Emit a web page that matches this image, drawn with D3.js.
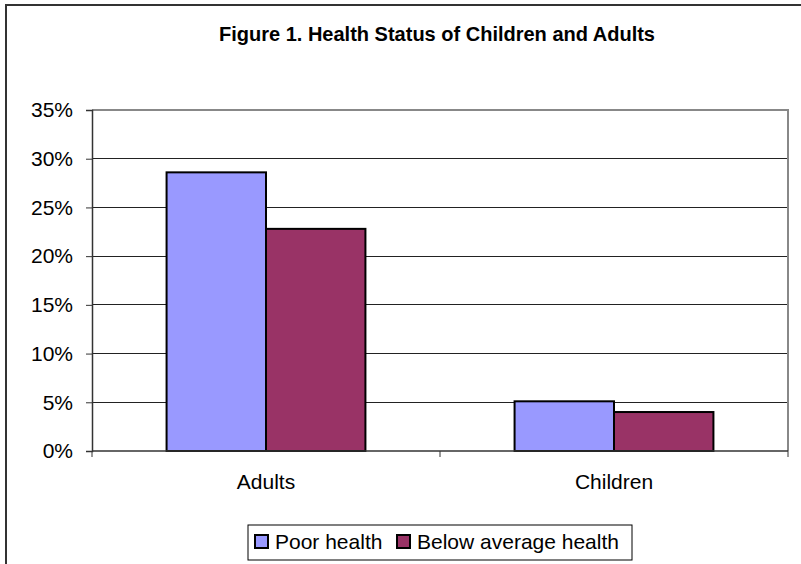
<!DOCTYPE html>
<html>
<head>
<meta charset="utf-8">
<script src="https://cdn.jsdelivr.net/npm/d3@7"></script>
<style>
  html, body { margin: 0; padding: 0; background: #fff; }
  svg { display: block; font-family: "Liberation Sans", Arial, sans-serif; }
</style>
</head>
<body>
<svg id="chart" width="801" height="564"></svg>
<script>
// Chart data
const categories = ["Adults", "Children"];
const seriesNames = ["Poor health", "Below average health"];
const poorHealth = [28.6, 5.1];
const belowAverageHealth = [22.8, 4.0];
const yTicks = [0, 5, 10, 15, 20, 25, 30, 35];
const titleText = "Figure 1. Health Status of Children and Adults";

const seriesColors = ["#9999FF", "#993366"];
const seriesValues = [poorHealth, belowAverageHealth];

const svg = d3.select("#chart");

// Outer chart frame (extends past the right and bottom edges)
svg.append("rect")
  .attr("x", 6).attr("y", 5)
  .attr("width", 870).attr("height", 600)
  .attr("fill", "#fff")
  .attr("stroke", "#333").attr("stroke-width", 2);

// Title
svg.append("text")
  .attr("x", 437).attr("y", 41)
  .attr("text-anchor", "middle")
  .attr("font-size", 20).attr("font-weight", "bold")
  .attr("fill", "#000")
  .text(titleText);

// Plot area
const plot = { left: 92, right: 788, top: 110, bottom: 451 };

const y = d3.scaleLinear().domain([0, 35]).range([plot.bottom, plot.top]);
const x0 = d3.scaleBand().domain(categories).range([plot.left, plot.right]);
const bw = x0.bandwidth();
const barW = bw / 3.5; // gap width 150%
const x1 = d3.scaleBand().domain(seriesNames)
  .range([(bw - 2 * barW) / 2, (bw + 2 * barW) / 2]);

// Gridlines
svg.append("g")
  .selectAll("line")
  .data(yTicks.filter(t => t > 0 && t < 35))
  .join("line")
  .attr("x1", plot.left).attr("x2", plot.right)
  .attr("y1", d => y(d)).attr("y2", d => y(d))
  .attr("stroke", "#222").attr("stroke-width", 1)
  .attr("shape-rendering", "crispEdges");

// Plot border (top and right in grey)
svg.append("path")
  .attr("d", `M${plot.left},${plot.top}H${plot.right}V${plot.bottom}`)
  .attr("fill", "none")
  .attr("stroke", "#888").attr("stroke-width", 2);

// Bars
const groups = svg.append("g")
  .selectAll("g")
  .data(categories)
  .join("g")
  .attr("transform", d => `translate(${x0(d)},0)`);

groups.selectAll("rect")
  .data((c, i) => seriesNames.map((s, k) => ({ s, k, v: seriesValues[k][i] })))
  .join("rect")
  .attr("x", d => x1(d.s))
  .attr("y", d => y(d.v))
  .attr("width", x1.bandwidth())
  .attr("height", d => y(0) - y(d.v))
  .attr("fill", d => seriesColors[d.k])
  .attr("stroke", "#000").attr("stroke-width", 2);

// Y axis
const yAxis = d3.axisLeft(y)
  .tickValues(yTicks)
  .tickFormat(d => d + "%")
  .tickSize(6)
  .tickPadding(13);
const gy = svg.append("g")
  .attr("transform", `translate(${plot.left},0)`)
  .call(yAxis);
gy.select(".domain").attr("stroke", "#333").attr("stroke-width", 1.5);
gy.selectAll(".tick line").attr("stroke", "#333");
gy.selectAll(".tick text")
  .attr("font-size", 21)
  .attr("font-family", "Liberation Sans, Arial, sans-serif")
  .attr("fill", "#000");

// X axis with ticks at category boundaries
const gx = svg.append("g")
  .attr("transform", `translate(0,${plot.bottom})`);
gx.append("line")
  .attr("x1", plot.left).attr("x2", plot.right)
  .attr("stroke", "#333").attr("stroke-width", 1.5);
gx.selectAll(".bound")
  .data([...categories.map(c => x0(c)), plot.right])
  .join("line")
  .attr("class", "bound")
  .attr("x1", d => d).attr("x2", d => d)
  .attr("y1", 0).attr("y2", 6)
  .attr("stroke", "#333");
gx.selectAll(".cat")
  .data(categories)
  .join("text")
  .attr("class", "cat")
  .attr("x", d => x0(d) + bw / 2)
  .attr("y", 38)
  .attr("text-anchor", "middle")
  .attr("font-size", 21)
  .attr("fill", "#000")
  .text(d => d);

// Legend
const legend = svg.append("g");
legend.append("rect")
  .attr("x", 248).attr("y", 525)
  .attr("width", 384).attr("height", 35)
  .attr("fill", "#fff")
  .attr("stroke", "#000").attr("stroke-width", 1);
const legendX = [255, 397];
const items = legend.selectAll(".item")
  .data(seriesNames)
  .join("g")
  .attr("class", "item")
  .attr("transform", (d, i) => `translate(${legendX[i]},535)`);
items.append("rect")
  .attr("width", 13).attr("height", 13)
  .attr("fill", (d, i) => seriesColors[i])
  .attr("stroke", "#000").attr("stroke-width", 2);
items.append("text")
  .attr("x", 20).attr("y", 14)
  .attr("font-size", 21)
  .attr("fill", "#000")
  .text(d => d);
</script>
</body>
</html>
